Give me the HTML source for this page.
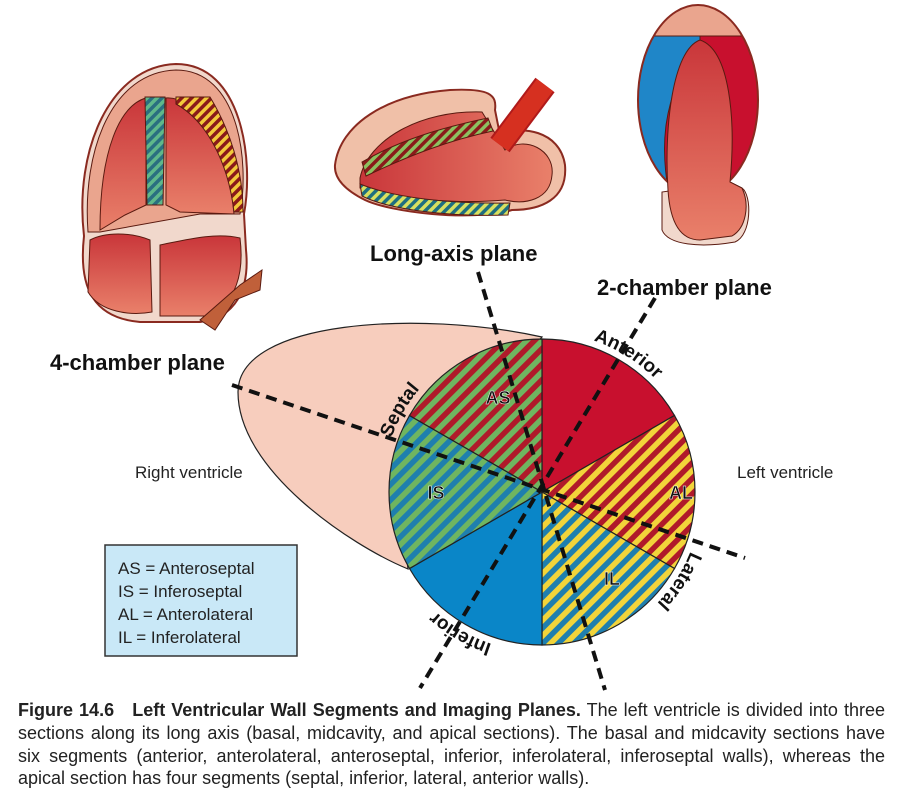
<!DOCTYPE html>
<html><head><meta charset="utf-8"><style>
body{margin:0;background:#fff;width:900px;height:795px;overflow:hidden;position:relative;font-family:"Liberation Sans",sans-serif}
.cap{position:absolute;left:18px;width:867px;font-family:"Liberation Sans Narrow","Liberation Sans",sans-serif;font-size:18px;color:#222;white-space:nowrap;text-align:justify;text-align-last:justify}
</style></head><body>
<svg width="900" height="795" style="position:absolute;left:0;top:0" xmlns="http://www.w3.org/2000/svg">
<defs>
<pattern id="gr" width="11" height="11" patternUnits="userSpaceOnUse" patternTransform="rotate(45)"><rect width="11" height="11" fill="#6fb560"/><rect width="5.5" height="11" fill="#b01a2a"/></pattern>
<pattern id="gb" width="11" height="11" patternUnits="userSpaceOnUse" patternTransform="rotate(45)"><rect width="11" height="11" fill="#6fb560"/><rect width="5.5" height="11" fill="#1f7fae"/></pattern>
<pattern id="yr" width="11" height="11" patternUnits="userSpaceOnUse" patternTransform="rotate(45)"><rect width="11" height="11" fill="#f2d43a"/><rect width="5.5" height="11" fill="#b01a2a"/></pattern>
<pattern id="yb" width="11" height="11" patternUnits="userSpaceOnUse" patternTransform="rotate(45)"><rect width="11" height="11" fill="#f2d43a"/><rect width="5.5" height="11" fill="#1f7fae"/></pattern>
<pattern id="sgb" width="7" height="7" patternUnits="userSpaceOnUse" patternTransform="rotate(45)"><rect width="7" height="7" fill="#5fb88a"/><rect width="3.5" height="7" fill="#2a6f80"/></pattern>
<pattern id="syr" width="7" height="7" patternUnits="userSpaceOnUse" patternTransform="rotate(45)"><rect width="7" height="7" fill="#f2c93a"/><rect width="3.5" height="7" fill="#8a1a1a"/></pattern>
<pattern id="sgr" width="7" height="7" patternUnits="userSpaceOnUse" patternTransform="rotate(45)"><rect width="7" height="7" fill="#8cc060"/><rect width="3.5" height="7" fill="#8a1a1a"/></pattern>
<pattern id="syb" width="7" height="7" patternUnits="userSpaceOnUse" patternTransform="rotate(45)"><rect width="7" height="7" fill="#d8e060"/><rect width="3.5" height="7" fill="#1f6f80"/></pattern>
<linearGradient id="red" x1="0" y1="0" x2="0" y2="1"><stop offset="0" stop-color="#c9363a"/><stop offset="1" stop-color="#e9806a"/></linearGradient>
<linearGradient id="redh" x1="0" y1="0" x2="1" y2="0"><stop offset="0" stop-color="#c9363a"/><stop offset="1" stop-color="#e9806a"/></linearGradient>
<clipPath id="ell"><ellipse cx="698" cy="100" rx="60" ry="95"/></clipPath>
<path id="arc" d="M 702 492 A 160 160 0 1 1 382 492 A 160 160 0 1 1 702 492"/>
</defs>

<!-- Heart 1 : 4-chamber -->
<g stroke="#5a1a10" stroke-width="1">
<path d="M84 236 C74 150 110 66 176 64 C242 64 254 160 244 214 L246 250 C250 290 235 318 200 322 L140 322 C95 318 78 290 84 236Z" fill="#f1d8cc" stroke="#8a2a20" stroke-width="2"/>
<path d="M88 232 C82 150 112 72 176 70 C238 70 250 160 240 214 L200 214 L100 232Z" fill="#eaa58e"/>
<path d="M100 230 C100 150 120 105 146 98 L146 205 L125 215Z" fill="url(#red)"/>
<path d="M166 98 C195 96 228 140 234 214 L180 212 L166 205Z" fill="url(#red)"/>
<path d="M145 97 L165 97 L163 205 L147 205Z" fill="url(#sgb)"/>
<path d="M176 97 L210 97 C230 130 243 170 243 212 L234 212 C228 160 205 120 176 104Z" fill="url(#syr)"/>
<path d="M90 240 C105 232 130 232 150 240 L152 312 C130 316 100 312 88 292Z" fill="url(#red)"/>
<path d="M160 245 C185 240 215 232 240 238 C244 270 238 305 205 316 L160 316Z" fill="url(#red)"/>
<path d="M200 320 L215 330 L235 300 L260 290 L262 270 L240 285Z" fill="#c0603a"/>
</g>

<!-- Heart 2 : long axis -->
<g stroke="#5a1a10" stroke-width="1">
<path d="M335 165 C340 125 385 95 450 90 C490 88 497 95 495 110 L500 135 C520 125 560 130 565 165 C568 200 540 210 512 210 C470 222 390 212 365 200 C345 190 334 178 335 165Z" fill="#f0c0a8" stroke="#8a2a20" stroke-width="2"/>
<path d="M360 178 C368 140 420 110 482 112 L490 125 L505 150 C525 135 555 150 552 175 C550 200 525 205 505 200 C460 204 400 200 360 188Z" fill="url(#redh)"/>
<path d="M362 162 C400 140 440 128 488 118 L493 131 C450 140 410 155 366 176Z" fill="url(#sgr)"/>
<path d="M360 184 C395 198 450 204 510 203 L508 215 C450 217 390 210 362 196Z" fill="url(#syb)"/>
<line x1="500" y1="145" x2="545" y2="85" stroke="#b01a1a" stroke-width="24"/>
<line x1="500" y1="145" x2="545" y2="85" stroke="#d63020" stroke-width="20"/>
</g>

<!-- Heart 3 : 2-chamber -->
<g stroke="#5a1a10" stroke-width="1">
<g clip-path="url(#ell)">
<rect x="630" y="0" width="140" height="200" fill="#c8102e"/>
<rect x="630" y="0" width="140" height="36" fill="#eaa58e"/>
<path d="M700 36 L630 36 L630 200 L670 200 C660 150 660 100 700 40Z" fill="#1f86c8"/>
</g>
<ellipse cx="698" cy="100" rx="60" ry="95" fill="none" stroke="#8a2a20" stroke-width="2"/>
<path d="M662 192 L662 230 C668 245 700 248 735 242 C752 235 752 195 742 188 L730 182 Z" fill="#f1d8cc"/>
<path d="M700 40 C730 50 736 120 730 182 L742 188 C750 205 746 228 732 236 L700 240 C680 240 670 222 668 190 C664 130 672 50 700 40Z" fill="url(#red)"/>
</g>

<!-- Right ventricle -->
<path d="M542 337 C420 310 238 320 238 392 C238 470 350 545 408 569 L400 500 Z" fill="#f7cdbd" stroke="#222" stroke-width="1.2"/>

<!-- Pie -->
<g stroke="#222" stroke-width="1.2">
<path d="M542 492 L542 339 A153 153 0 0 1 674.5 415.5Z" fill="#c8102e"/>
<path d="M542 492 L674.5 415.5 A153 153 0 0 1 674.5 568.5Z" fill="url(#yr)"/>
<path d="M542 492 L674.5 568.5 A153 153 0 0 1 542 645Z" fill="url(#yb)"/>
<path d="M542 492 L542 645 A153 153 0 0 1 409.5 568.5Z" fill="#0a86c8"/>
<path d="M542 492 L409.5 568.5 A153 153 0 0 1 409.5 415.5Z" fill="url(#gb)"/>
<path d="M542 492 L409.5 415.5 A153 153 0 0 1 542 339Z" fill="url(#gr)"/>
</g>

<!-- dashed planes -->
<g stroke="#111" stroke-width="4" stroke-dasharray="11 7" fill="none">
<line x1="232" y1="385" x2="745" y2="558"/>
<line x1="478" y1="272" x2="605" y2="690"/>
<line x1="655" y1="298" x2="420" y2="688"/>
</g>

<g font-weight="bold" font-size="18" fill="#111" text-anchor="middle" stroke="#fff" stroke-width="0.5">
<text x="498" y="404">AS</text><text x="436" y="499">IS</text><text x="681" y="499">AL</text><text x="612" y="585">IL</text>
</g>
<g font-weight="bold" font-size="19" fill="#111">
<text><textPath href="#arc" startOffset="843" text-anchor="middle">Anterior</textPath></text>
<text><textPath href="#arc" startOffset="586" text-anchor="middle">Septal</textPath></text>
<text><textPath href="#arc" startOffset="92" text-anchor="middle">Lateral</textPath></text>
<text><textPath href="#arc" startOffset="335" text-anchor="middle">Inferior</textPath></text>
</g>

<g font-weight="bold" font-size="22" fill="#111">
<text x="370" y="261">Long-axis plane</text>
<text x="597" y="295">2-chamber plane</text>
<text x="50" y="370">4-chamber plane</text>
</g>
<g font-size="17" fill="#222">
<text x="135" y="478">Right ventricle</text>
<text x="737" y="478">Left ventricle</text>
</g>
<rect x="105" y="545" width="192" height="111" fill="#c9e8f7" stroke="#333" stroke-width="1.5"/>
<g font-size="17" fill="#222">
<text x="118" y="574">AS = Anteroseptal</text>
<text x="118" y="597">IS = Inferoseptal</text>
<text x="118" y="620">AL = Anterolateral</text>
<text x="118" y="643">IL = Inferolateral</text>
</g>
</svg>
<div class="cap" style="top:700px"><b>Figure 14.6&nbsp;&nbsp; Left Ventricular Wall Segments and Imaging Planes.</b> The left ventricle is divided into three</div>
<div class="cap" style="top:723px">sections along its long axis (basal, midcavity, and apical sections). The basal and midcavity sections have</div>
<div class="cap" style="top:746px">six segments (anterior, anterolateral, anteroseptal, inferior, inferolateral, inferoseptal walls), whereas the</div>
<div class="cap" style="top:768px;text-align-last:left">apical section has four segments (septal, inferior, lateral, anterior walls).</div>
</body></html>
